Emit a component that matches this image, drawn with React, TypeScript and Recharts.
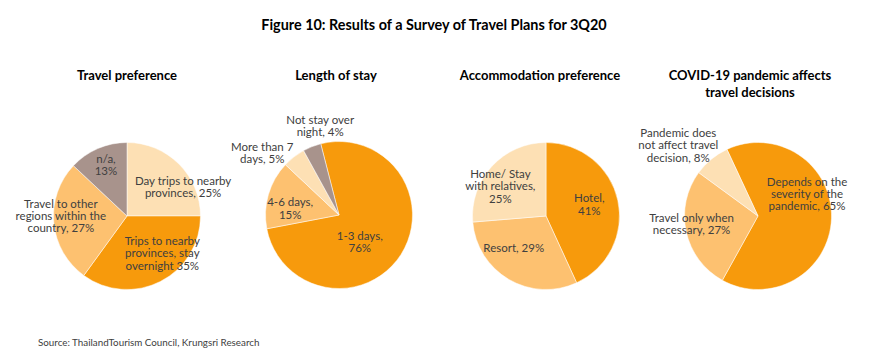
import React from 'react';
import { PieChart, Pie, Cell } from 'recharts';

const chartTitle = 'Figure 10: Results of a Survey of Travel Plans for 3Q20';
const sourceText = 'Source: ThailandTourism Council, Krungsri Research';

// Pie 1: Travel preference
const prefTitle = ['Travel preference'];
const prefNames = ['Day trips to nearby provinces', 'Trips to nearby provinces, stay overnight', 'Travel to other regions within the country', 'n/a'];
const prefValues = [25, 35, 27, 13];
const prefLabels = [['Day trips to nearby', 'provinces, 25%'], ['Trips to nearby', 'provinces, stay', 'overnight 35%'], ['Travel to other', 'regions within the', 'country, 27%'], ['n/a,', '13%']];

// Pie 2: Length of stay
const stayTitle = ['Length of stay'];
const stayNames = ['1-3 days', '4-6 days', 'More than 7 days', 'Not stay over night'];
const stayValues = [76, 15, 5, 4];
const stayLabels = [['1-3 days,', '76%'], ['4-6 days,', '15%'], ['More than 7', 'days, 5%'], ['Not stay over', 'night, 4%']];

// Pie 3: Accommodation preference
const accTitle = ['Accommodation preference'];
const accNames = ['Hotel', 'Resort', 'Home/ Stay with relatives'];
const accValues = [41, 29, 25];
const accLabels = [['Hotel,', '41%'], ['Resort, 29%'], ['Home/ Stay', 'with relatives,', '25%']];

// Pie 4: COVID-19 pandemic affects travel decisions
const covidTitle = ['COVID-19 pandemic affects', 'travel decisions'];
const covidNames = ['Depends on the severity of the pandemic', 'Travel only when necessary', 'Pandemic does not affect travel decision'];
const covidValues = [65, 27, 8];
const covidLabels = [['Depends on the', 'severity of the', 'pandemic, 65%'], ['Travel only when', 'necessary, 27%'], ['Pandemic does', 'not affect travel', 'decision, 8%']];

const ORANGE = '#F79A0C';
const LIGHT = '#FDC170';
const PALE = '#FDE0B4';
const GRAY = '#A8938C';
const TEXT = '#404040';
const FONT = 'Lato, "Open Sans", sans-serif';

const pies = [
  { title: prefTitle, names: prefNames, values: prefValues, labels: prefLabels,
    colors: [PALE, ORANGE, LIGHT, GRAY], cx: 127, cy: 216, start: 90, titleShift: 0,
    place: [[0.86, 17.6], [0.7, -16.4], [0.9, 5.4], [0.75, 1]] },
  { title: stayTitle, names: stayNames, values: stayValues, labels: stayLabels,
    colors: [ORANGE, LIGHT, PALE, GRAY], cx: 339, cy: 215, start: 104.4, titleShift: -3,
    place: [[0.46, 19.7], [0.67, -8.6], [1.34, -13.4], [1.24, 9.7]] },
  { title: accTitle, names: accNames, values: accValues, labels: accLabels,
    colors: [ORANGE, LIGHT, PALE], cx: 546, cy: 216, start: 90, titleShift: -6,
    place: [[0.61, -2.7], [0.62, 14.7], [0.74, -9.6]] },
  { title: covidTitle, names: covidNames, values: covidValues, labels: covidLabels,
    colors: [ORANGE, LIGHT, PALE], cx: 758, cy: 216, start: 115, titleShift: -8,
    place: [[0.73, -26], [0.91, 5.6], [1.45, -9]] },
];

const makeLabel = (lines: string[][], place: number[][]) => (props: any) => {
  const { cx, cy, midAngle, outerRadius, index } = props;
  const [ratio, shift] = place[index];
  const a = ((midAngle - shift) * Math.PI) / 180;
  const R = outerRadius * ratio;
  const x = cx + R * Math.cos(a);
  const y = cy - R * Math.sin(a);
  const ls = lines[index];
  const lh = 12.3;
  const y0 = y - ((ls.length - 1) * lh) / 2 + 4;
  return (
    <text x={x} y={y0} textAnchor="middle" fill={TEXT}
      style={{ fontFamily: FONT, fontSize: 11.5 }}>
      {ls.map((l, i) => (
        <tspan key={i} x={x} y={y0 + i * lh}>{l}</tspan>
      ))}
    </text>
  );
};

export default function App() {
  return (
    <div style={{ position: 'absolute', left: 0, top: 0, width: 870, height: 355, background: '#fff', fontFamily: FONT }}>
      <div style={{ position: 'absolute', left: 0, width: 868, top: 16, textAlign: 'center', fontWeight: 700, fontSize: 14.4, color: '#000', lineHeight: '18px' }}>
        {chartTitle}
      </div>
      {pies.map((p, i) => (
        <div key={i} style={{ position: 'absolute', left: p.cx - 100 + p.titleShift, width: 200, top: 67, textAlign: 'center', fontWeight: 700, fontSize: 13, color: '#000', lineHeight: '16.8px' }}>
          {p.title.map((t, j) => <div key={j}>{t}</div>)}
        </div>
      ))}
      <div style={{ position: 'absolute', left: 38, top: 335, fontSize: 9.8, color: TEXT, lineHeight: '14px' }}>
        {sourceText}
      </div>
      <div style={{ position: 'absolute', left: 0, top: 0 }}>
        <PieChart width={870} height={355} margin={{ top: 0, right: 0, bottom: 0, left: 0 }}>
          {pies.map((p, i) => (
            <Pie key={i}
              data={p.names.map((n, k) => ({ name: n, value: p.values[k] }))}
              dataKey="value" nameKey="name"
              cx={p.cx} cy={p.cy} outerRadius={73.5} innerRadius={0}
              startAngle={p.start} endAngle={p.start - 360}
              stroke="#ffffff" strokeWidth={0.5}
              labelLine={false}
              label={makeLabel(p.labels, p.place)}
              isAnimationActive={false}>
              {p.names.map((n, k) => <Cell key={k} fill={p.colors[k]} />)}
            </Pie>
          ))}
        </PieChart>
      </div>
    </div>
  );
}
